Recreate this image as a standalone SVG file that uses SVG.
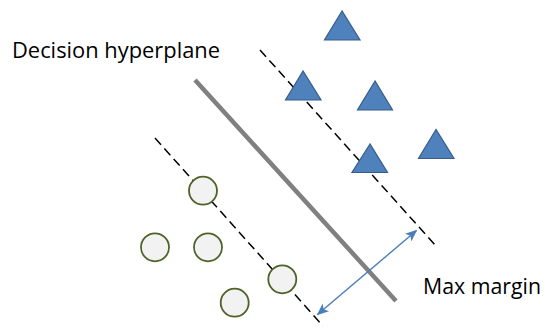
<svg xmlns="http://www.w3.org/2000/svg" width="545" height="327" viewBox="0 0 545 327">
<style>
.tri{fill:#4F81BD;stroke:#385D8A;stroke-width:1.2}
.pt{fill:#F2F2F2;stroke:#4F6228;stroke-width:1.8}
.dash{stroke:#000;stroke-width:1.5;stroke-dasharray:9 5;fill:none}
.lbl{font-family:"Open Sans","Liberation Sans",sans-serif;font-size:22px;fill:#000}
</style>
<defs>
<marker id="ah" viewBox="0 0 12 10" refX="11" refY="5" markerWidth="12" markerHeight="10" markerUnits="userSpaceOnUse" orient="auto-start-reverse">
<path d="M0,0 L12,5 L0,10 L3,5 z" fill="#4A7EBB"/>
</marker>
</defs>
<rect width="545" height="327" fill="#fff"/>
<g id="connectors">
<line id="hyperplane" x1="195" y1="80" x2="396" y2="301" stroke="#808080" stroke-width="4.5"/>
<line class="dash" x1="260" y1="50" x2="436" y2="246"/>
<line class="dash" x1="155" y1="138" x2="323" y2="326"/>
<line id="margin-arrow" x1="317.5" y1="314.5" x2="416.5" y2="230.5" stroke="#4A7EBB" stroke-width="1.4" marker-start="url(#ah)" marker-end="url(#ah)"/>
</g>
<g id="triangles">
<polygon id="t1" class="tri" points="342,11 324.5,40 360,40"/>
<polygon id="t2" class="tri" points="303,71 285.5,100 321,100"/>
<polygon id="t3" class="tri" points="375,81 357.5,110 392.5,110"/>
<polygon id="t4" class="tri" points="436,129.5 418.5,158.5 454,158.5"/>
<polygon id="t5" class="tri" points="370,144 352,172.5 387.5,172.5"/>
</g>
<g id="circles">
<circle id="c1" class="pt" cx="203" cy="190.7" r="14"/>
<circle id="c2" class="pt" cx="155" cy="247.3" r="14"/>
<circle id="c3" class="pt" cx="208" cy="247.3" r="14"/>
<circle id="c4" class="pt" cx="282.3" cy="279.3" r="14"/>
<circle id="c5" class="pt" cx="234.7" cy="302.7" r="14"/>
</g>
<g id="label-hyperplane"><text class="lbl" x="12" y="57.7" textLength="208" lengthAdjust="spacingAndGlyphs">Decision hyperplane</text></g>
<g id="label-margin"><text class="lbl" x="423" y="294" textLength="118" lengthAdjust="spacingAndGlyphs">Max margin</text></g>
</svg>
